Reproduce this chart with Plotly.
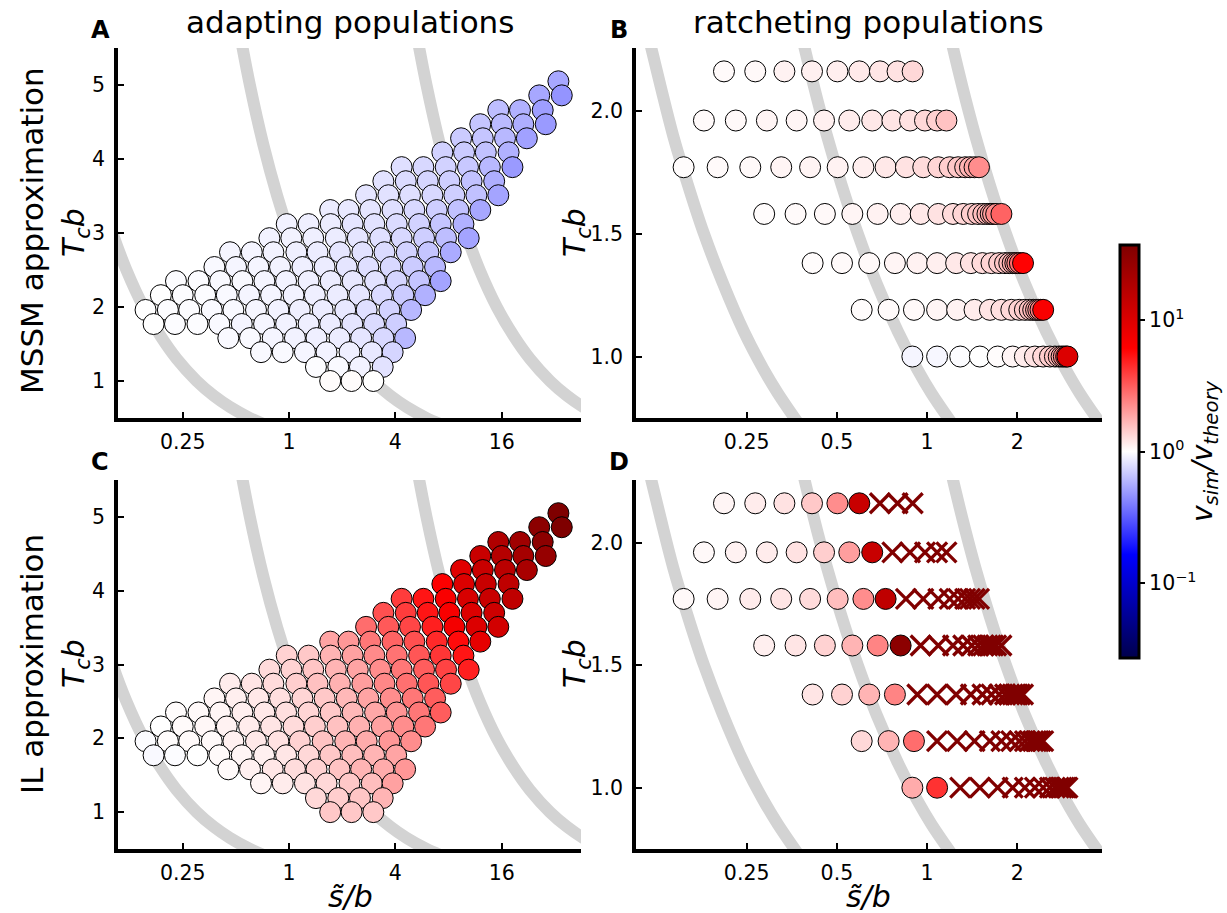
import plotly.graph_objects as go

# ---------------- data ----------------
# Panels A / C : adapting populations (same grid, different colour values)
AC_T = [1.00, 1.19, 1.39, 1.58, 1.77, 1.96, 2.16, 2.35, 2.54, 2.74, 2.93,
        3.12, 3.31, 3.51, 3.70, 3.89, 4.09, 4.28, 4.47, 4.66, 4.86, 5.05]
AC_x = [
    [1.71, 2.26, 3.00],
    [1.42, 1.90, 2.52, 3.39],
    [0.694, 0.921, 1.23, 1.63, 2.20, 2.94, 3.86],
    [0.453, 0.601, 0.808, 1.08, 1.43, 1.93, 2.56, 3.42, 4.54],
    [0.171, 0.226, 0.303, 0.403, 0.540, 0.722, 0.962, 1.29, 1.71, 2.28, 3.03, 4.04],
    [0.154, 0.206, 0.272, 0.365, 0.484, 0.650, 0.870, 1.15, 1.55, 2.08, 2.75, 3.70, 4.91],
    [0.188, 0.250, 0.335, 0.444, 0.594, 0.791, 1.06, 1.40, 1.88, 2.50, 3.35, 4.44, 5.89],
    [0.229, 0.307, 0.407, 0.544, 0.725, 0.962, 1.29, 1.72, 2.29, 3.07, 4.07, 5.45, 7.22],
    [0.378, 0.501, 0.670, 0.889, 1.19, 1.59, 2.12, 2.81, 3.76, 5.01, 6.71],
    [0.463, 0.615, 0.815, 1.10, 1.45, 1.94, 2.60, 3.47, 4.64, 6.15, 8.23],
    [0.774, 1.03, 1.37, 1.84, 2.45, 3.28, 4.34, 5.81, 7.74, 10.4],
    [0.970, 1.29, 1.72, 2.29, 3.04, 4.07, 5.45, 7.22, 9.71],
    [1.71, 2.17, 2.88, 3.85, 5.12, 6.86, 9.09, 12.1],
    [2.73, 3.65, 4.84, 6.48, 8.63, 11.5, 15.3],
    [3.42, 4.58, 6.10, 8.09, 10.8, 14.5],
    [4.34, 5.76, 7.71, 10.3, 13.7, 18.4],
    [7.38, 9.79, 13.0, 17.5],
    [9.42, 12.5, 16.7, 22.2],
    [12.1, 16.0, 21.2, 28.4],
    [15.3, 20.3, 27.3],
    [26.1, 35.0],
    [33.5],
]
# log10(v_sim / v_theory), MSSM approximation
A_v = [
    [0.01, 0.01, 0.0],
    [-0.01, -0.02, -0.04, -0.09],
    [-0.02, -0.02, -0.03, -0.04, -0.05, -0.07, -0.13],
    [-0.02, -0.02, -0.03, -0.04, -0.05, -0.06, -0.08, -0.12, -0.22],
    [0.0, -0.01, -0.01, -0.02, -0.03, -0.03, -0.04, -0.05, -0.06, -0.08, -0.11, -0.15],
    [0.0, -0.01, -0.01, -0.02, -0.02, -0.03, -0.04, -0.05, -0.06, -0.07, -0.10, -0.14, -0.22],
    [0.0, -0.01, -0.01, -0.02, -0.03, -0.03, -0.04, -0.05, -0.06, -0.08, -0.11, -0.16, -0.24],
    [-0.01, -0.01, -0.02, -0.02, -0.03, -0.04, -0.05, -0.06, -0.07, -0.09, -0.13, -0.18, -0.28],
    [-0.02, -0.03, -0.03, -0.04, -0.05, -0.06, -0.08, -0.10, -0.12, -0.16, -0.22],
    [-0.03, -0.03, -0.04, -0.05, -0.06, -0.08, -0.09, -0.11, -0.14, -0.18, -0.26],
    [-0.04, -0.04, -0.05, -0.06, -0.08, -0.10, -0.12, -0.15, -0.20, -0.28],
    [-0.04, -0.05, -0.06, -0.08, -0.09, -0.11, -0.14, -0.18, -0.24],
    [-0.06, -0.07, -0.08, -0.10, -0.12, -0.15, -0.19, -0.27],
    [-0.08, -0.09, -0.10, -0.12, -0.15, -0.19, -0.28],
    [-0.09, -0.11, -0.13, -0.15, -0.19, -0.25],
    [-0.10, -0.12, -0.14, -0.17, -0.22, -0.31],
    [-0.14, -0.16, -0.19, -0.24],
    [-0.16, -0.18, -0.22, -0.29],
    [-0.18, -0.21, -0.25, -0.31],
    [-0.20, -0.24, -0.30],
    [-0.27, -0.33],
    [-0.27],
]
# log10(v_sim / v_theory), IL approximation
C_v = [
    [0.17, 0.17, 0.17],
    [0.12, 0.15, 0.18, 0.23],
    [0.03, 0.06, 0.09, 0.12, 0.17, 0.20, 0.29],
    [0.015, 0.046, 0.077, 0.108, 0.139, 0.185, 0.23, 0.26, 0.32],
    [-0.02, -0.01, 0.0, 0.015, 0.03, 0.046, 0.077, 0.12, 0.17, 0.20, 0.23, 0.28],
    [-0.01, 0.01, 0.015, 0.02, 0.046, 0.07, 0.09, 0.14, 0.185, 0.23, 0.26, 0.32, 0.35],
    [0.0, 0.015, 0.025, 0.04, 0.06, 0.08, 0.11, 0.15, 0.19, 0.24, 0.29, 0.35, 0.42],
    [0.01, 0.02, 0.03, 0.05, 0.07, 0.10, 0.13, 0.17, 0.22, 0.27, 0.33, 0.42, 0.50],
    [0.03, 0.05, 0.07, 0.10, 0.13, 0.17, 0.22, 0.28, 0.35, 0.42, 0.50],
    [0.06, 0.08, 0.11, 0.15, 0.19, 0.24, 0.30, 0.37, 0.44, 0.52, 0.57],
    [0.11, 0.14, 0.18, 0.23, 0.28, 0.35, 0.42, 0.50, 0.58, 0.69],
    [0.14, 0.17, 0.23, 0.29, 0.36, 0.43, 0.52, 0.62, 0.72],
    [0.28, 0.32, 0.42, 0.48, 0.54, 0.66, 0.75, 0.94],
    [0.45, 0.51, 0.57, 0.69, 0.85, 1.00, 1.06],
    [0.54, 0.60, 0.72, 0.82, 1.00, 1.09],
    [0.60, 0.72, 0.82, 1.03, 1.12, 1.18],
    [0.80, 1.00, 1.12, 1.18],
    [0.97, 1.12, 1.21, 1.31],
    [1.12, 1.24, 1.34, 1.43],
    [1.27, 1.37, 1.49],
    [1.49, 1.57],
    [1.57],
]

# Panels B / D : ratcheting populations
BD_T = [1.00, 1.19, 1.38, 1.58, 1.77, 1.96, 2.16]
BD_x = [
    [0.893, 1.08, 1.29, 1.50, 1.72, 1.93, 2.12, 2.29, 2.44, 2.57, 2.67, 2.75, 2.81, 2.86, 2.91, 2.94],
    [0.605, 0.744, 0.904, 1.08, 1.26, 1.44, 1.62, 1.77, 1.91, 2.03, 2.12, 2.20, 2.26, 2.31, 2.35, 2.39, 2.44],
    [0.415, 0.520, 0.641, 0.781, 0.928, 1.08, 1.25, 1.40, 1.53, 1.64, 1.74, 1.82, 1.88, 1.93, 1.97, 2.00, 2.04, 2.09],
    [0.286, 0.364, 0.456, 0.563, 0.684, 0.816, 0.952, 1.09, 1.22, 1.32, 1.41, 1.48, 1.54, 1.59, 1.63, 1.66, 1.70, 1.77],
    [0.154, 0.200, 0.257, 0.326, 0.407, 0.503, 0.613, 0.727, 0.850, 0.971, 1.09, 1.19, 1.27, 1.34, 1.39, 1.44, 1.49],
    [0.180, 0.230, 0.292, 0.367, 0.453, 0.550, 0.656, 0.766, 0.877, 0.984, 1.08, 1.16],
    [0.210, 0.267, 0.334, 0.413, 0.502, 0.594, 0.696, 0.797, 0.895],
]
B_v = [
    [-0.03, -0.025, -0.01, 0.0, 0.01, 0.03, 0.06, 0.09, 0.12, 0.15, 0.18, 0.22, 0.27, 0.35, 0.50, 1.00],
    [0.01, 0.015, 0.02, 0.03, 0.04, 0.06, 0.08, 0.10, 0.12, 0.14, 0.16, 0.19, 0.22, 0.26, 0.30, 0.40, 0.82],
    [0.01, 0.015, 0.02, 0.03, 0.04, 0.05, 0.07, 0.09, 0.11, 0.13, 0.15, 0.18, 0.21, 0.25, 0.30, 0.35, 0.45, 0.78],
    [0.01, 0.015, 0.02, 0.03, 0.04, 0.05, 0.07, 0.09, 0.11, 0.13, 0.15, 0.18, 0.20, 0.23, 0.26, 0.30, 0.35, 0.48],
    [0.01, 0.015, 0.02, 0.03, 0.035, 0.04, 0.05, 0.07, 0.09, 0.11, 0.13, 0.15, 0.17, 0.20, 0.23, 0.27, 0.35],
    [0.015, 0.02, 0.03, 0.03, 0.046, 0.055, 0.07, 0.08, 0.09, 0.12, 0.145, 0.185],
    [0.015, 0.02, 0.04, 0.046, 0.05, 0.065, 0.077, 0.09, 0.12],
]
# None = simulation not matching (drawn as a dark red cross)
N = None
D_v = [
    [0.26, 0.63] + [N] * 14,
    [0.12, 0.23, 0.45] + [N] * 14,
    [0.08, 0.14, 0.23, 0.38] + [N] * 14,
    [0.05, 0.08, 0.14, 0.23, 0.38, 1.49] + [N] * 12,
    [0.02, 0.03, 0.06, 0.08, 0.11, 0.20, 0.35, 1.18] + [N] * 9,
    [0.02, 0.04, 0.06, 0.09, 0.15, 0.30, 1.12] + [N] * 5,
    [0.03, 0.06, 0.09, 0.17, 0.35, 1.12] + [N] * 3,
]

# grey boundary curves
AC_curve_T = [5.8, 5.0, 4.2, 3.5, 3.0, 2.5, 2.0, 1.6, 1.3, 1.0, 0.8, 0.65, 0.5, 0.42]
AC_curve_x = [
    [0.052, 0.060, 0.071, 0.086, 0.100, 0.120, 0.150, 0.188, 0.231, 0.300, 0.375, 0.462, 0.600, 0.714],
    [0.517, 0.600, 0.714, 0.857, 1.00, 1.20, 1.50, 1.88, 2.31, 3.00, 3.75, 4.62, 6.00, 7.14],
    [5.17, 6.00, 7.14, 8.57, 10.0, 12.0, 15.0, 18.8, 23.1, 30.0, 37.5, 46.2, 60.0, 71.4],
]
BD_curve_T = [2.35, 2.1, 1.9, 1.7, 1.5, 1.3, 1.1, 0.95, 0.85, 0.7]
BD_curve_x = [
    [0.115, 0.129, 0.142, 0.159, 0.180, 0.208, 0.245, 0.284, 0.318, 0.386],
    [0.374, 0.419, 0.463, 0.518, 0.587, 0.677, 0.800, 0.926, 1.035, 1.257],
    [1.17, 1.31, 1.447, 1.618, 1.833, 2.115, 2.50, 2.895, 3.235, 3.93],
]

# ---------------- figure ----------------
W, H = 1227, 913
FONT = "DejaVu Sans"
GREY = "#d3d3d3"
DARKRED = "#800000"
seismic = [[0.0, "rgb(0,0,76)"], [0.25, "rgb(0,0,255)"], [0.5, "rgb(255,255,255)"],
           [0.75, "rgb(255,0,0)"], [1.0, "rgb(127,0,0)"]]

fig = go.Figure()

def add_curves(xs_list, ts, xa, ya):
    for xs in xs_list:
        fig.add_trace(go.Scatter(x=xs, y=ts, mode="lines", xaxis=xa, yaxis=ya,
                                 line=dict(color=GREY, width=12, shape="spline"),
                                 showlegend=False, hoverinfo="skip"))

def add_points(rows_x, rows_t, rows_v, xa, ya):
    cx, cy, cv, xx, xy = [], [], [], [], []
    # upper rows first so that lower rows are painted over them
    for xs, t, vs in reversed(list(zip(rows_x, rows_t, rows_v))):
        for x, v in zip(xs, vs):
            if v is None:
                xx.append(x); xy.append(t)
            else:
                cx.append(x); cy.append(t); cv.append(v)
    fig.add_trace(go.Scatter(x=cx, y=cy, mode="markers", xaxis=xa, yaxis=ya,
                             marker=dict(size=21, color=cv, coloraxis="coloraxis",
                                         line=dict(color="black", width=1)),
                             showlegend=False, hoverinfo="skip"))
    if xx:
        fig.add_trace(go.Scatter(x=xx, y=xy, mode="markers", xaxis=xa, yaxis=ya,
                                 marker=dict(symbol="x-thin", size=20, color=DARKRED,
                                             line=dict(color=DARKRED, width=3.3)),
                                 showlegend=False, hoverinfo="skip"))

add_curves(AC_curve_x, AC_curve_T, "x", "y")
add_points(AC_x, AC_T, A_v, "x", "y")
add_curves(BD_curve_x, BD_curve_T, "x2", "y2")
add_points(BD_x, BD_T, B_v, "x2", "y2")
add_curves(AC_curve_x, AC_curve_T, "x3", "y3")
add_points(AC_x, AC_T, C_v, "x3", "y3")
add_curves(BD_curve_x, BD_curve_T, "x4", "y4")
add_points(BD_x, BD_T, D_v, "x4", "y4")

def px(v):
    return v / W

def py(v):
    return 1 - v / H

axis_common = dict(showline=True, linewidth=3.5, linecolor="black", mirror=False,
                   ticks="inside", ticklen=6, tickwidth=1.5, tickcolor="black",
                   showgrid=False, zeroline=False,
                   tickfont=dict(family=FONT, size=20.5, color="black"))

left_dom = [px(118), px(581)]
right_dom = [px(636), px(1102)]
top_dom = [py(418), py(48)]
bot_dom = [py(849), py(480)]

xa_left = dict(type="log", range=[-0.9685, 1.653], tickvals=[0.25, 1, 4, 16],
               ticktext=["0.25", "1", "4", "16"], ticklabelstandoff=3, **axis_common)
xa_right = dict(type="log", range=[-0.9714, 0.5837], tickvals=[0.25, 0.5, 1, 2],
                ticktext=["0.25", "0.5", "1", "2"], ticklabelstandoff=3, **axis_common)
ya_left = dict(range=[0.5, 5.5], tickvals=[1, 2, 3, 4, 5], ticklabelstandoff=5, **axis_common)
ya_right = dict(range=[0.75, 2.255], tickvals=[1.0, 1.5, 2.0], ticktext=["1.0", "1.5", "2.0"],
                ticklabelstandoff=5, **axis_common)

fig.update_layout(
    width=W, height=H, margin=dict(l=0, r=0, t=0, b=0),
    paper_bgcolor="white", plot_bgcolor="white",
    font=dict(family=FONT, color="black"),
    xaxis=dict(domain=left_dom, anchor="y", **xa_left),
    yaxis=dict(domain=top_dom, anchor="x", **ya_left),
    xaxis2=dict(domain=right_dom, anchor="y2", **xa_right),
    yaxis2=dict(domain=top_dom, anchor="x2", **ya_right),
    xaxis3=dict(domain=left_dom, anchor="y3", **xa_left),
    yaxis3=dict(domain=bot_dom, anchor="x3", **ya_left),
    xaxis4=dict(domain=right_dom, anchor="y4", **xa_right),
    yaxis4=dict(domain=bot_dom, anchor="x4", **ya_right),
    coloraxis=dict(
        colorscale=seismic, cmin=-1.57, cmax=1.57,
        colorbar=dict(
            x=px(1120), xanchor="left", xpad=0, y=py(451.5), yanchor="middle", ypad=0,
            len=413 / H, lenmode="fraction", thickness=19, thicknessmode="pixels",
            outlinewidth=3, outlinecolor="black",
            tickvals=[-1, 0, 1],
            ticktext=["10<sup>\u22121</sup>", "10<sup>0</sup>", "10<sup>1</sup>"],
            ticks="outside", ticklen=5, tickwidth=1.5, tickcolor="black",
            tickfont=dict(family=FONT, size=20.5, color="black"),
            title=dict(text="<i>v<sub>sim</sub>/v<sub>theory</sub></i>", side="right",
                       font=dict(family=FONT, size=28, color="black")),
        ),
    ),
)

def ann(x, y, text, size, angle=0):
    fig.add_annotation(x=px(x), y=py(y), xref="paper", yref="paper", text=text,
                       showarrow=False, textangle=angle, xanchor="center", yanchor="middle",
                       font=dict(family=FONT, size=size, color="black"))

ann(350, 22, "adapting populations", 31)
ann(868, 22, "ratcheting populations", 31)
ann(100, 30, "<b>A</b>", 24)
ann(619, 30, "<b>B</b>", 24)
ann(100, 462, "<b>C</b>", 24)
ann(619, 462, "<b>D</b>", 24)
ann(32, 231, "MSSM approximation", 31, angle=-90)
ann(32, 664, "IL approximation", 31, angle=-90)
ann(75, 233, "<i>T<sub>c</sub>b</i>", 30, angle=-90)
ann(75, 664, "<i>T<sub>c</sub>b</i>", 30, angle=-90)
ann(576, 233, "<i>T<sub>c</sub>b</i>", 30, angle=-90)
ann(576, 664, "<i>T<sub>c</sub>b</i>", 30, angle=-90)
ann(350, 896, "<i>s\u0303/b</i>", 30)
ann(868, 896, "<i>s\u0303/b</i>", 30)

fig.write_html("out.html")
